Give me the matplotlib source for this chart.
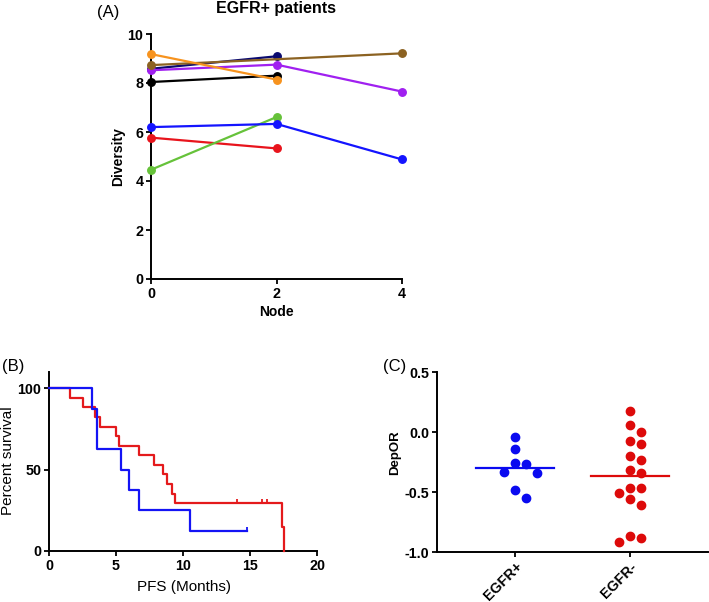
import numpy as np
import matplotlib
matplotlib.use("Agg")
import matplotlib.pyplot as plt
from matplotlib.markers import TICKUP

plt.rcParams['font.family'] = ['Liberation Sans', 'DejaVu Sans']

# ---------------- data ----------------
# Panel A: diversity per node for EGFR+ patients
nodes_a = [0, 2, 4]
div_black = [8.04, 8.30]
div_navy = [8.58, 9.09]
div_purple = [8.52, 8.75, 7.65]
div_brown = [8.73, 9.21]          # nodes 0 and 4
div_orange = [9.18, 8.14]
div_green = [4.46, 6.61]
div_blue = [6.20, 6.33, 4.88]
div_red = [5.77, 5.33]

# Panel B: PFS (months) Kaplan-Meier
pfs_pos_events = [3.2, 3.6, 3.6, 5.4, 6.0, 6.7, 10.5]
pfs_pos_censored = [14.8]
pfs_neg_events = [1.6, 2.5, 3.45, 3.8, 5.0, 5.2, 6.7, 7.8, 8.5, 8.8, 9.15, 9.4, 17.4, 17.55]
pfs_neg_censored = [14.0, 15.9, 16.25]

# Panel C: DepOR
groups_c = ["EGFR+", "EGFR-"]
depor_pos = [-0.04, -0.145, -0.26, -0.27, -0.33, -0.345, -0.48, -0.55]
depor_neg = [0.176, 0.059, -0.003, -0.073, -0.098, -0.204, -0.232, -0.316, -0.338,
             -0.464, -0.469, -0.506, -0.556, -0.606, -0.866, -0.883, -0.916]

# ---------------- styling ----------------
W, H = 709, 602
fig = plt.figure(figsize=(W / 100, H / 100), dpi=100)

def px_axes(left, top, right, bottom):
    return fig.add_axes([left / W, 1 - bottom / H, (right - left) / W, (bottom - top) / H])

def style(ax, lw=1.4):
    for s in ("top", "right"):
        ax.spines[s].set_visible(False)
    for s in ("left", "bottom"):
        ax.spines[s].set_linewidth(lw)
    ax.tick_params(direction="out", length=3.4, width=1.3, labelsize=10.3, pad=2)

def bold_ticks(ax):
    for t in ax.get_xticklabels() + ax.get_yticklabels():
        t.set_fontweight("bold")

RED = "#E41A1C"
BLUE = "#1414F5"

# ---------------- Panel A ----------------
axA = px_axes(151, 34, 402, 279)
style(axA)
series_a = [
    (nodes_a[:2], div_black, "#000000"),
    (nodes_a[:2], div_navy, "#0A0A70"),
    (nodes_a, div_purple, "#A020F0"),
    ([nodes_a[0], nodes_a[2]], div_brown, "#8C6222"),
    (nodes_a[:2], div_orange, "#F7931E"),
    (nodes_a[:2], div_red, "#E8141C"),
    (nodes_a[:2], div_green, "#66C23A"),
    (nodes_a, div_blue, "#1414FF"),
]
for xs, ys, c in series_a:
    axA.plot(xs, ys, color=c, lw=1.6, marker="o", markersize=5.4, clip_on=False, zorder=3)
axA.set_xlim(0, 4)
axA.set_ylim(0, 10)
axA.set_xticks([0, 2, 4])
axA.set_yticks([0, 2, 4, 6, 8, 10])
bold_ticks(axA)
fig.text(276 / W, 1 - 8 / H, "EGFR+ patients", ha="center", va="center",
         fontsize=11.5, fontweight="bold")
fig.text(97 / W, 1 - 12 / H, "(A)", ha="left", va="center", fontsize=12)
fig.text(118 / W, 1 - 157 / H, "Diversity", ha="center", va="center",
         rotation=90, fontsize=10, fontweight="bold")
fig.text(276 / W, 1 - 312 / H, "Node", ha="center", va="center",
         fontsize=10, fontweight="bold")

# ---------------- Panel B ----------------
def km_curve(events, censored):
    times = sorted(set(events) | set(censored))
    n_at_risk = len(events) + len(censored)
    s = 100.0
    xs, ys = [0.0], [100.0]
    cens_pts = []
    for t in times:
        d = events.count(t)
        c = censored.count(t)
        if d > 0:
            s = s * (1 - d / n_at_risk)
            xs.append(t)
            ys.append(s)
        if c > 0:
            cens_pts.append((t, s))
        n_at_risk -= d + c
    last = times[-1]
    if xs[-1] != last:
        xs.append(last)
        ys.append(s)
    return xs, ys, cens_pts

axB = px_axes(49, 372, 317, 551)
style(axB)
for ev, ce, c in [(pfs_neg_events, pfs_neg_censored, RED), (pfs_pos_events, pfs_pos_censored, BLUE)]:
    xs, ys, cp = km_curve(ev, ce)
    axB.step(xs, ys, where="post", color=c, lw=1.6, clip_on=False, zorder=3)
    if cp:
        axB.plot([p[0] for p in cp], [p[1] for p in cp], linestyle="none",
                 marker=TICKUP, markersize=3, markeredgewidth=1.3, color=c,
                 clip_on=False, zorder=3)
axB.set_xlim(0, 20)
axB.set_ylim(0, 110)
axB.set_xticks([0, 5, 10, 15, 20])
axB.set_yticks([0, 50, 100])
bold_ticks(axB)
fig.text(2 / W, 1 - 367 / H, "(B)", ha="left", va="center", fontsize=12)
fig.text(8 / W, 1 - 461 / H, "Percent survival", ha="center", va="center",
         rotation=90, fontsize=11)
fig.text(184 / W, 1 - 587 / H, "PFS (Months)", ha="center", va="center", fontsize=11)

# ---------------- Panel C ----------------
axC = px_axes(437, 372, 708, 552)
style(axC)
axC.set_xlim(-0.68, 1.68)
axC.set_ylim(-1.0, 0.5)

def swarm_x(values, center, ax, diam_px=10.6, step_px=5.4):
    trans = ax.transData
    pts = trans.transform(np.column_stack([np.full(len(values), center), values]))
    order = np.argsort(-np.asarray(values))
    placed = []
    offs = np.zeros(len(values))
    cands = [0.0]
    for k in range(1, 12):
        cands += [k * step_px, -k * step_px]
    for i in order:
        y = pts[i, 1]
        for cx in cands:
            if all((cx - px_) ** 2 + (y - py_) ** 2 >= diam_px ** 2 for px_, py_ in placed):
                break
        placed.append((cx, y))
        offs[i] = cx
    back = trans.inverted().transform(np.column_stack([pts[:, 0] + offs, pts[:, 1]]))
    return back[:, 0]

for pos, (vals, c) in enumerate([(depor_pos, "#0A0AF0"), (depor_neg, "#DD0A0A")]):
    xs = swarm_x(vals, pos, axC)
    axC.plot(xs, vals, linestyle="none", marker="o", markersize=6, color=c, zorder=3)
    m = np.mean(vals)
    axC.plot([pos - 0.34, pos + 0.34], [m, m], color=c, lw=1.6, zorder=2)

axC.set_xticks([0, 1])
axC.set_xticklabels(groups_c, rotation=45, ha="right", rotation_mode="anchor")
axC.set_yticks([-1.0, -0.5, 0.0, 0.5])
axC.set_yticklabels(["-1.0", "-0.5", "0.0", "0.5"])
bold_ticks(axC)
fig.text(383 / W, 1 - 367 / H, "(C)", ha="left", va="center", fontsize=12)
fig.text(395 / W, 1 - 453 / H, "DepOR", ha="center", va="center",
         rotation=90, fontsize=9.5, fontweight="bold")

fig.savefig("out.png", dpi=100)
